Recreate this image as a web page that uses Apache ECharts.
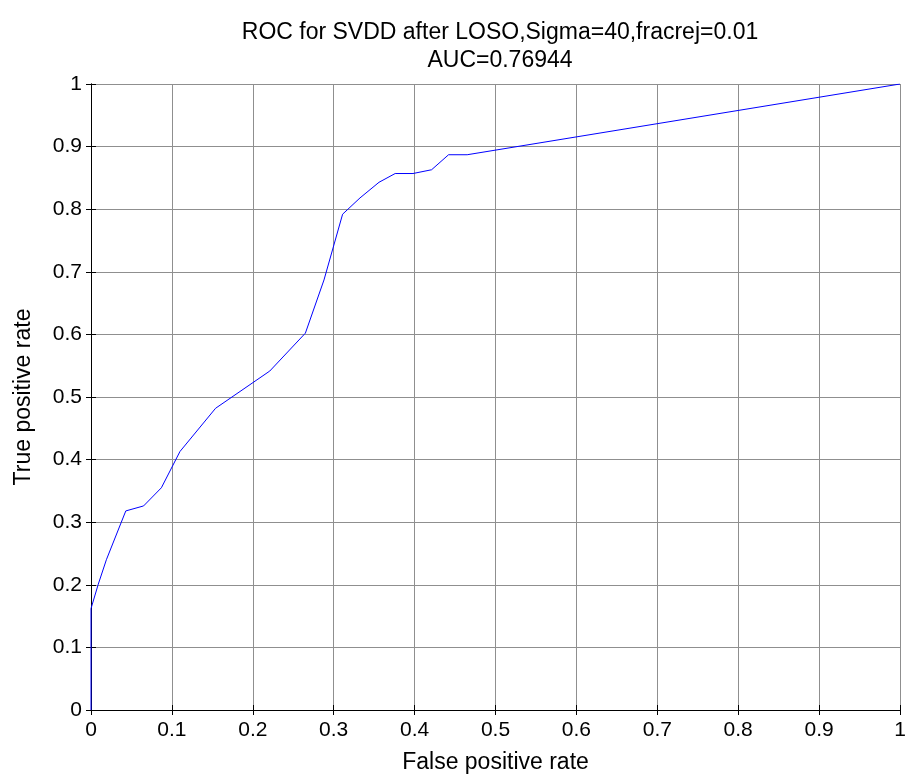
<!DOCTYPE html>
<html>
<head>
<meta charset="utf-8">
<script src="https://cdn.jsdelivr.net/npm/echarts@6/dist/echarts.min.js"></script>
<style>
  html, body { margin: 0; padding: 0; background: #fff; }
  #roc { width: 908px; height: 777px; }
</style>
</head>
<body>
<div id="roc"></div>
<script>
  // ROC curve points
  var fpr = [0, 0, 0.009, 0.019, 0.043, 0.065, 0.087, 0.110, 0.154, 0.221, 0.265, 0.288, 0.311, 0.3325, 0.356, 0.376, 0.398, 0.421, 0.442, 0.465, 1];
  var tpr = [0, 0.162, 0.201, 0.240, 0.318, 0.326, 0.355, 0.413, 0.482, 0.5415, 0.602, 0.687, 0.792, 0.818, 0.843, 0.857, 0.857, 0.863, 0.887, 0.887, 1];
  var titleLines = ['ROC for SVDD after LOSO,Sigma=40,fracrej=0.01', 'AUC=0.76944'];

  var points = fpr.map(function (x, i) { return [x, tpr[i]]; });

  var font = 'Liberation Sans, Arial, sans-serif';
  var gridLine = { show: true, lineStyle: { color: '#8f8f8f', width: 1 } };
  var tickIn = { show: true, inside: true, length: 5, lineStyle: { color: '#000' } };
  var fmt = function (v) { return (v === 0 || v === 1) ? String(v) : v.toFixed(1); };

  var chart = echarts.init(document.getElementById('roc'));
  chart.setOption({
    animation: false,
    backgroundColor: '#fff',
    title: {
      text: titleLines.join('\n'),
      left: 495,
      top: 14,
      textAlign: 'center',
      textStyle: { fontFamily: font, fontSize: 23, fontWeight: 'normal', color: '#000', lineHeight: 28 }
    },
    grid: { left: 91, right: 8, top: 84, bottom: 67, outerBoundsMode: 'none' },
    xAxis: [
      {
        type: 'value', min: 0, max: 1, interval: 0.1,
        name: 'False positive rate', nameLocation: 'middle', nameGap: 41,
        nameTextStyle: { fontFamily: font, fontSize: 23, color: '#000' },
        axisLine: { lineStyle: { color: '#000' } },
        axisTick: tickIn,
        axisLabel: { fontFamily: font, fontSize: 21, color: '#000', margin: 10, formatter: fmt },
        splitLine: gridLine
      },
      {
        type: 'value', min: 0, max: 1, interval: 0.1, position: 'top',
        axisLine: { lineStyle: { color: '#000' } },
        axisTick: tickIn, axisLabel: { show: false }, splitLine: { show: false }
      }
    ],
    yAxis: [
      {
        type: 'value', min: 0, max: 1, interval: 0.1,
        name: 'True positive rate', nameLocation: 'middle', nameGap: 56,
        nameTextStyle: { fontFamily: font, fontSize: 23, color: '#000' },
        axisLine: { show: true, lineStyle: { color: '#000' } },
        axisTick: tickIn,
        axisLabel: { fontFamily: font, fontSize: 21, color: '#000', margin: 9, formatter: fmt },
        splitLine: gridLine
      },
      {
        type: 'value', min: 0, max: 1, interval: 0.1, position: 'right',
        axisLine: { show: true, lineStyle: { color: '#000' } },
        axisTick: tickIn, axisLabel: { show: false }, splitLine: { show: false }
      }
    ],
    series: [
      {
        type: 'line',
        data: points,
        showSymbol: false,
        lineStyle: { color: '#0000ff', width: 1 },
        itemStyle: { color: '#0000ff' }
      }
    ]
  });
</script>
</body>
</html>
